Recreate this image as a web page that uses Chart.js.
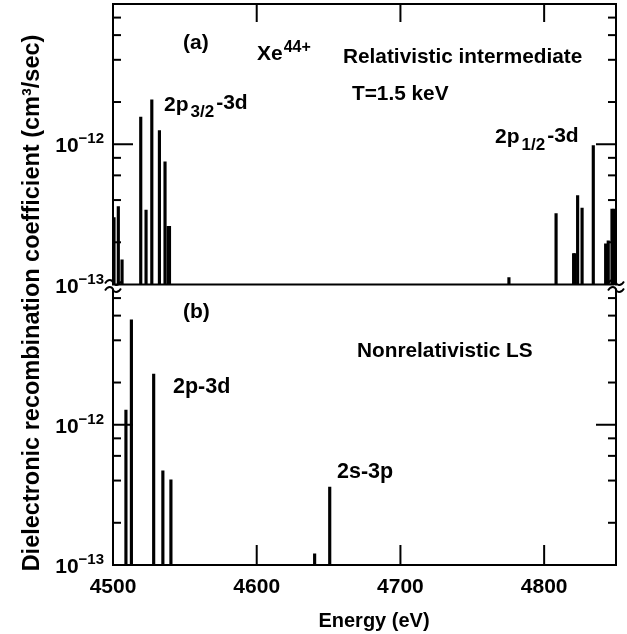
<!DOCTYPE html>
<html><head><meta charset="utf-8">
<script src="https://cdn.jsdelivr.net/npm/chart.js@4.4.1/dist/chart.umd.min.js"></script>
<style>html,body{margin:0;padding:0;background:#fff;}canvas{display:block;}</style>
</head><body>
<canvas id="c" width="627" height="634"></canvas>
<script>
// (a) Relativistic intermediate coupling
const energiesA = [4500.7, 4503.7, 4506.3, 4519.3, 4523.0, 4527.0, 4532.3, 4536.2, 4538.4, 4539.3, 4775.5, 4808.3, 4820.5, 4821.4, 4823.3, 4826.4, 4834.2, 4842.8, 4844.6, 4847.2, 4848.6];
const coeffA    = [3.0e-13, 3.6e-13, 1.5e-13, 1.56e-12, 3.4e-13, 2.07e-12, 1.25e-12, 7.5e-13, 2.6e-13, 2.6e-13, 1.12e-13, 3.2e-13, 1.66e-13, 1.66e-13, 4.3e-13, 3.5e-13, 9.8e-13, 1.95e-13, 2.05e-13, 3.45e-13, 3.45e-13];
// (b) Nonrelativistic LS coupling
const energiesB = [4509.0, 4512.8, 4528.3, 4534.7, 4540.3, 4640.3, 4650.8];
const coeffB    = [1.27e-12, 5.6e-12, 2.3e-12, 4.7e-13, 4.05e-13, 1.2e-13, 3.6e-13];

const xTickValues = [4500, 4600, 4700, 4800];
const yTickValues = [1e-13, 2e-13, 4e-13, 6e-13, 8e-13, 1e-12, 2e-12, 4e-12, 6e-12, 8e-12, 1e-11];
const yLabelledExponents = [-13, -12];

const FONT = '"Liberation Sans", Arial, sans-serif';

function decadeExp(v){ const e = Math.log10(v); const r = Math.round(e); return Math.abs(e - r) < 1e-6 ? r : null; }
function zeroPad(s){ s.paddingTop = 0; s.paddingBottom = 0; s.paddingLeft = 0; s.paddingRight = 0; }

function yAxis(){
  return {
    type: 'logarithmic', position: 'left', stack: 'panels', stackWeight: 1,
    min: 1e-13, max: 1e-11, offset: false,
    grid: {display: false, drawTicks: false}, border: {display: false},
    afterBuildTicks: s => { s.ticks = yTickValues.map(v => ({value: v})); },
    afterFit: s => { s.width = 113; zeroPad(s); },
    ticks: {
      display: false, autoSkip: false,
      callback: v => { const e = decadeExp(v); return (e !== null && yLabelledExponents.includes(e)) ? '10^' + e : ''; }
    }
  };
}

function rich(ctx, x, y, parts){
  let cx = x;
  parts.forEach(p => {
    ctx.font = 'bold ' + p.s + 'px ' + FONT;
    ctx.fillText(p.t, cx, y + (p.dy || 0));
    cx += ctx.measureText(p.t).width + (p.gap || 0);
  });
  return cx;
}
function richWidth(ctx, parts){
  let w = 0;
  parts.forEach(p => { ctx.font = 'bold ' + p.s + 'px ' + FONT; w += ctx.measureText(p.t).width + (p.gap || 0); });
  return w;
}

const decor = {
  id: 'decor',
  afterDraw(chart){
    const {ctx, chartArea: a, scales} = chart;
    const mid = scales.yTop.bottom;
    ctx.save();
    ctx.strokeStyle = '#000'; ctx.fillStyle = '#000'; ctx.lineWidth = 2; ctx.lineCap = 'butt';
    const line = (x1, y1, x2, y2) => { ctx.beginPath(); ctx.moveTo(x1, y1); ctx.lineTo(x2, y2); ctx.stroke(); };
    // frame and panel separator
    ctx.strokeRect(a.left, a.top, a.right - a.left, a.bottom - a.top);
    line(a.left, mid, a.right, mid);
    // inner y ticks on both sides + y tick labels (10 with superscript exponent)
    ctx.textBaseline = 'alphabetic'; ctx.textAlign = 'left';
    ['yTop', 'yBot'].forEach(id => {
      const s = scales[id];
      s.ticks.forEach(t => {
        const v = t.value;
        const y = s.getPixelForValue(v);
        if (v > s.min * 1.0001 && v < s.max * 0.9999) {
          const len = decadeExp(v) !== null ? 20 : 8;
          line(a.left, y, a.left + len, y);
          line(a.right, y, a.right - len, y);
        }
        if (t.label) {
          const [base, ex] = String(t.label).split('^');
          const parts = [{t: base, s: 21}, {t: '\u2212' + Math.abs(+ex), s: 15, dy: -9}];
          const w = richWidth(ctx, parts);
          rich(ctx, a.left - 9 - w, y + 8, parts);
        }
      });
    });
    // inner x ticks top and bottom
    xTickValues.forEach(v => {
      const x = scales.x.getPixelForValue(v);
      if (x <= a.left + 1) return;
      line(x, a.top, x, a.top + 18);
      line(x, a.bottom, x, a.bottom - 20);
    });
    // axis breaks
    const brk = cx => {
      ctx.fillStyle = '#fff';
      ctx.fillRect(cx - 2, mid + 1, 4, 3);
      ctx.lineWidth = 1.8;
      [mid - 2, mid + 5].forEach(cy => {
        ctx.beginPath();
        ctx.moveTo(cx - 8, cy + 1);
        ctx.bezierCurveTo(cx - 5, cy - 4, cx - 1, cy - 3, cx, cy);
        ctx.bezierCurveTo(cx + 1, cy + 3, cx + 5, cy + 4, cx + 8, cy - 1);
        ctx.stroke();
      });
      ctx.fillStyle = '#000';
    };
    brk(a.left); brk(a.right);
    // annotations
    ctx.textBaseline = 'alphabetic'; ctx.textAlign = 'left'; ctx.fillStyle = '#000';
    rich(ctx, 183, 49, [{t: '(a)', s: 21}]);
    rich(ctx, 257, 59.5, [{t: 'Xe', s: 21, gap: 1}, {t: '44+', s: 16, dy: -8}]);
    rich(ctx, 343, 62.5, [{t: 'Relativistic intermediate', s: 20.8}]);
    rich(ctx, 352, 100, [{t: 'T=1.5 keV', s: 20.8}]);
    rich(ctx, 164, 110.5, [{t: '2p', s: 21, gap: 2}, {t: '3/2', s: 17, dy: 6, gap: 2}, {t: '-3d', s: 21, dy: -2}]);
    rich(ctx, 495, 143, [{t: '2p', s: 21, gap: 2}, {t: '1/2', s: 17, dy: 7, gap: 2}, {t: '-3d', s: 21, dy: -1}]);
    rich(ctx, 183, 318, [{t: '(b)', s: 21}]);
    rich(ctx, 173, 393, [{t: '2p-3d', s: 21.5}]);
    rich(ctx, 357, 357, [{t: 'Nonrelativistic LS', s: 20.8}]);
    rich(ctx, 337, 478, [{t: '2s-3p', s: 21.5}]);
    // axis titles
    ctx.font = 'bold 20px ' + FONT;
    ctx.textAlign = 'center';
    ctx.fillText('Energy (eV)', 374, 627);
    ctx.save();
    ctx.translate(33, 303);
    ctx.rotate(-Math.PI / 2);
    ctx.textBaseline = 'middle';
    ctx.font = 'bold 23.5px ' + FONT;
    ctx.fillText('Dielectronic recombination coefficient (cm\u00B3/sec)', 0, 0);
    ctx.restore();
    ctx.restore();
  }
};

new Chart(document.getElementById('c'), {
  type: 'bar',
  data: {
    datasets: [
      {label: 'Nonrelativistic LS', data: energiesB.map((e, i) => ({x: e, y: coeffB[i]})), xAxisID: 'x', yAxisID: 'yBot',
       backgroundColor: '#000', borderWidth: 0, barThickness: 2.5, grouped: false},
      {label: 'Relativistic intermediate', data: energiesA.map((e, i) => ({x: e, y: coeffA[i]})), xAxisID: 'x', yAxisID: 'yTop',
       backgroundColor: '#000', borderWidth: 0, barThickness: 2.5, grouped: false}
    ]
  },
  options: {
    responsive: false, animation: false, devicePixelRatio: 1,
    layout: {padding: {top: 4, right: 11, left: 0, bottom: 0}},
    plugins: {legend: {display: false}, tooltip: {enabled: false}},
    scales: {
      x: {
        type: 'linear', position: 'bottom', min: 4500, max: 4850, offset: false,
        grid: {display: false, drawTicks: false, offset: false}, border: {display: false},
        afterBuildTicks: s => { s.ticks = xTickValues.map(v => ({value: v})); },
        afterFit: s => { s.height = 69; zeroPad(s); },
        ticks: {padding: 10, color: '#000', font: {family: FONT, size: 21, weight: 'bold'}, callback: v => String(v)}
      },
      yBot: yAxis(),
      yTop: yAxis()
    }
  },
  plugins: [decor]
});
</script>
</body></html>
